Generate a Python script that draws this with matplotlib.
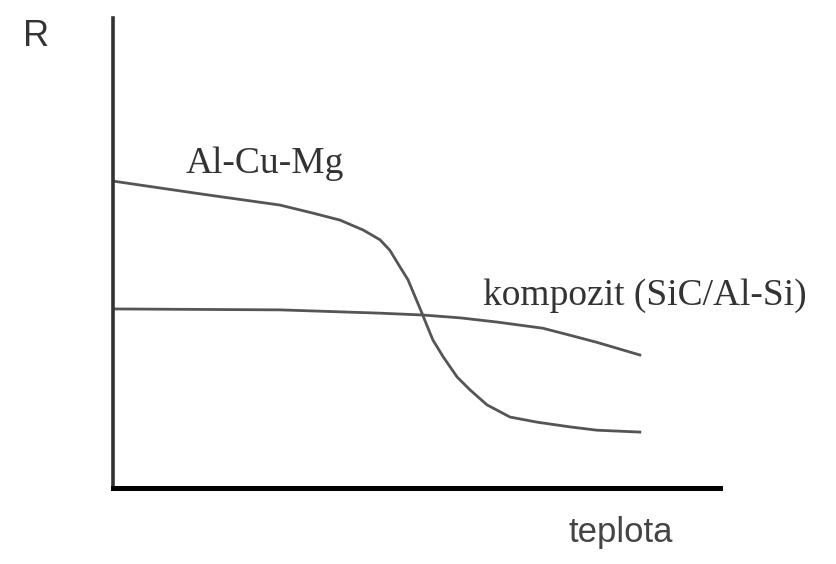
import matplotlib.pyplot as plt

# schematic: pevnost R vs teplota (axis units 0-100)
al_x = [0, 14.3, 27.5, 32.9, 37.4, 41.2, 44.0, 45.6, 47.3, 48.6, 49.8, 50.9,
        51.9, 52.7, 54.4, 56.7, 58.8, 61.6, 65.4, 69.9, 75.3, 79.7, 86.8]
al_y = [65.3, 62.6, 60.2, 58.5, 57.0, 54.9, 52.8, 50.6, 47.0, 44.3, 40.6, 37.2,
        34.0, 31.5, 27.9, 23.6, 20.9, 17.7, 15.1, 14.0, 13.0, 12.3, 11.9]

komp_x = [0, 27.5, 44.0, 51.1, 57.2, 63.3, 70.8, 75.3, 79.7, 86.8]
komp_y = [38.1, 37.9, 37.2, 36.8, 36.2, 35.3, 34.0, 32.5, 31.0, 28.3]

W, H = 837, 564
fig = plt.figure(figsize=(W / 100, H / 100), dpi=100)
ax = fig.add_axes([113 / W, (H - 488) / H, (720 - 113) / W, (488 - 18) / H])

ax.plot(al_x, al_y, color='#555555', linewidth=2.0, solid_joinstyle='round')
ax.plot(komp_x, komp_y, color='#555555', linewidth=2.0, solid_joinstyle='round')

ax.set_xlim(0, 100)
ax.set_ylim(0, 100)
ax.spines['top'].set_visible(False)
ax.spines['right'].set_visible(False)
ax.spines['left'].set_color('#333333')
ax.spines['left'].set_linewidth(2.6)
ax.spines['bottom'].set_color('black')
ax.spines['bottom'].set_linewidth(3.6)
ax.set_xticks([])
ax.set_yticks([])

serif = ['Liberation Serif', 'DejaVu Serif']
sans = ['Liberation Sans', 'DejaVu Sans']
ax.text(11.9, 67.0, 'Al-Cu-Mg', fontsize=27, family=serif, color='#333333',
        ha='left', va='baseline', clip_on=False)
ax.text(61.0, 38.9, 'kompozit (SiC/Al-Si)', fontsize=27, family=serif, color='#333333',
        ha='left', va='baseline', clip_on=False)
ax.text(75.0, -11.5, 'teplota', fontsize=25, family=sans, color='#444444',
        ha='left', va='baseline', clip_on=False)
ax.text(-14.9, 94.0, 'R', fontsize=26, family=sans, color='#333333',
        ha='left', va='baseline', clip_on=False)

fig.savefig('out.png', dpi=100)
